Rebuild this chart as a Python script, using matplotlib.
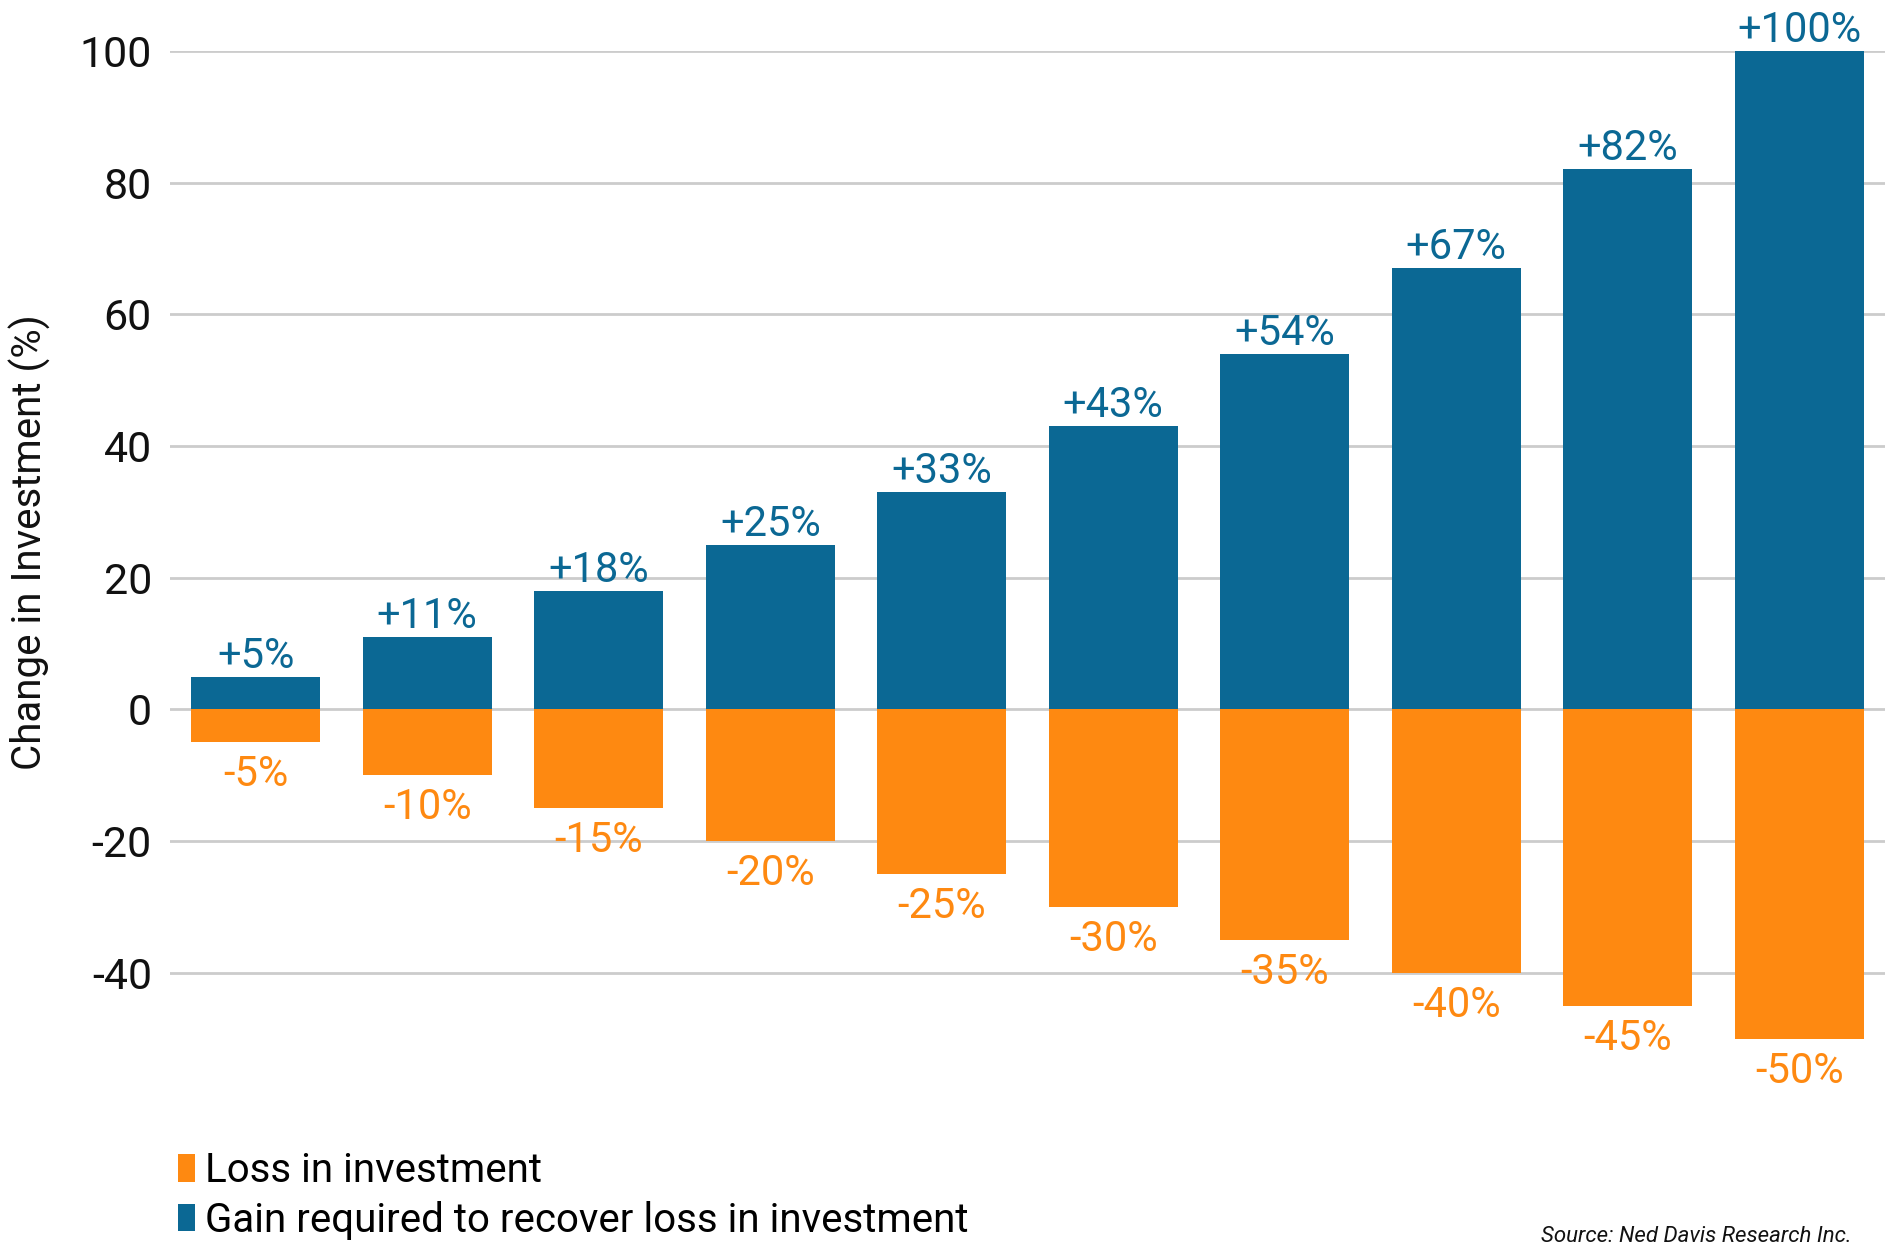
import matplotlib
matplotlib.use("Agg")
import matplotlib.pyplot as plt

# values
losses = [-5, -10, -15, -20, -25, -30, -35, -40, -45, -50]
gains = [5, 11, 18, 25, 33, 43, 54, 67, 82, 100]
yticks = [-40, -20, 0, 20, 40, 60, 80, 100]

blue = '#0b6894'
orange = '#fe8911'

plt.rcParams['font.family'] = ['Roboto', 'DejaVu Sans']

W, H = 1895, 1244
fig = plt.figure(figsize=(W / 100, H / 100), dpi=100)
ax = fig.add_axes([170 / W, 1 - 1104.7 / H, (1885 - 170) / W, (1104.7 - 50.8) / H])

x = list(range(len(gains)))
b_loss = ax.bar(x, losses, width=0.753, color=orange, zorder=3, label='Loss in investment')
b_gain = ax.bar(x, gains, width=0.753, color=blue, zorder=3,
                label='Gain required to recover loss in investment')

# data labels
for xi, g in zip(x, gains):
    ax.annotate('+%d%%' % g, (xi, g), xytext=(0, 6.5), textcoords='offset points',
                ha='center', va='baseline', fontsize=30, color=blue)
for xi, l in zip(x, losses):
    ax.annotate('%d%%' % l, (xi, l), xytext=(0, -8.5), textcoords='offset points',
                ha='center', va='top', fontsize=30, color=orange)

ax.set_xlim(-0.5, 9.5)
ax.set_ylim(-60, 100)
ax.set_yticks(yticks)
ax.set_yticklabels([str(t) for t in yticks])
ax.set_xticks([])
ax.tick_params(axis='y', length=0, pad=13, labelsize=31, labelcolor='#111111')
ax.yaxis.grid(True, color='#cccccc', linewidth=2, zorder=0)
ax.set_axisbelow(True)
for s in ax.spines.values():
    s.set_visible(False)

fig.text(30 / W, 1 - 542 / H, 'Change in Investment (%)', rotation=90,
         ha='center', va='center', fontsize=29, color='#111111')

fig.legend(handles=[b_loss, b_gain], loc='upper left',
           bbox_to_anchor=(178 / W, 1 - 1151 / H), frameon=False,
           fontsize=29, handlelength=0.42, handleheight=0.67,
           handletextpad=0.25, labelspacing=0.27, borderpad=0, borderaxespad=0)

fig.text(1852 / W, 1 - 1226 / H, 'Source: Ned Davis Research Inc.', ha='right', va='top',
         fontsize=16, style='italic', color='#111111')

fig.savefig('out.png', dpi=100)
